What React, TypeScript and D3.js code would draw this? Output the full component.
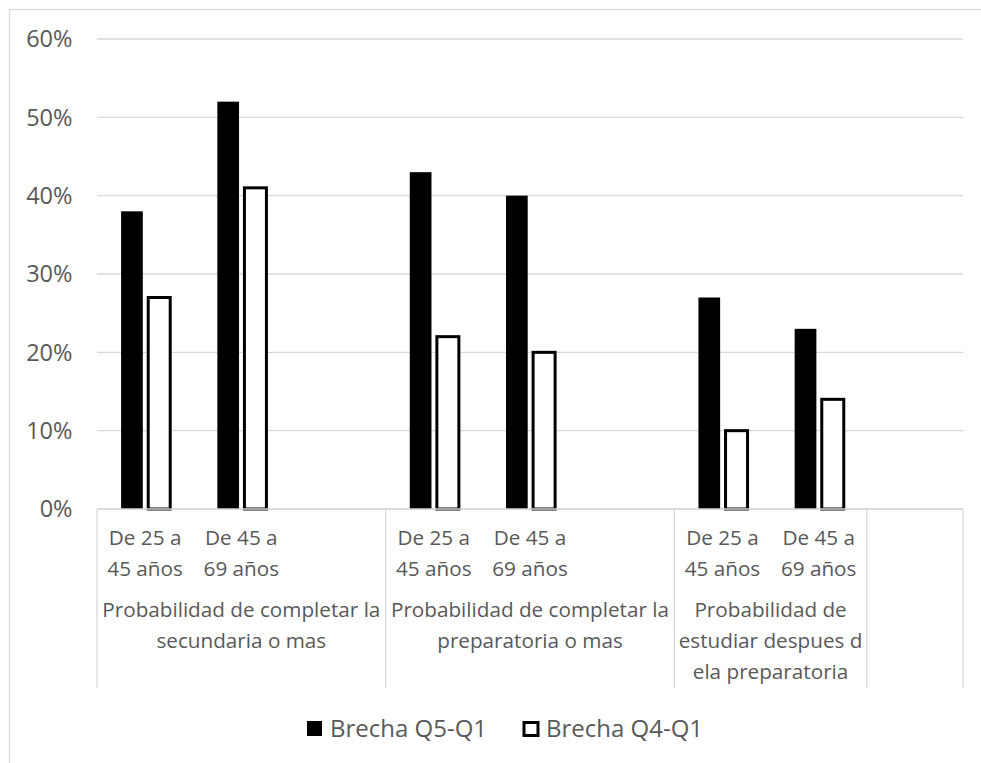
import React from "react";
import * as d3 from "d3";

// Slots along the category axis (groups of sub-categories, with empty spacer slots)
const subLabels: string[][] = [
  ["De 25 a", "45 años"], ["De 45 a", "69 años"], [],
  ["De 25 a", "45 años"], ["De 45 a", "69 años"], [],
  ["De 25 a", "45 años"], ["De 45 a", "69 años"], [],
];
const groupLabels: string[][] = [
  ["Probabilidad de completar la", "secundaria o mas"],
  ["Probabilidad de completar la", "preparatoria o mas"],
  ["Probabilidad de", "estudiar despues d", "ela preparatoria"],
  [],
];
const groupSpans: number[] = [3, 3, 2, 1];

const seriesNames = ["Brecha Q5-Q1", "Brecha Q4-Q1"];
const q5q1: (number | null)[] = [38, 52, null, 43, 40, null, 27, 23, null];
const q4q1: (number | null)[] = [27, 41, null, 22, 20, null, 10, 14, null];

const yTicks = [0, 10, 20, 30, 40, 50, 60];

const W = 981;
const H = 763;
const FONT = "'Open Sans', 'Noto Sans', sans-serif";
const TEXT = "#595959";
const GRID = "#d9d9d9";

export default function App() {
  const left = 97, right = 963, top = 39, bottom = 509;
  const x = d3.scaleBand<number>().domain(d3.range(subLabels.length)).range([left, right]).padding(0);
  const y = d3.scaleLinear().domain([0, 60]).range([bottom, top]);
  const bw = x.bandwidth();
  const barW = 22;
  const fs = 20.7;
  const tickFs = 23.5;
  const legendFs = 24;

  // Group boundary positions
  const bounds: number[] = [left];
  let acc = 0;
  groupSpans.forEach((s) => {
    acc += s;
    bounds.push(left + acc * bw);
  });

  return (
    <svg width={W} height={H} style={{ position: "absolute", left: 0, top: 0, display: "block" }} fontFamily={FONT}>
      <rect x={0} y={0} width={W} height={H} fill="#fff" />
      <rect x={9.5} y={9.5} width={W + 20} height={H + 20} fill="none" stroke={GRID} strokeWidth={1.3} />

      {/* gridlines + y tick labels */}
      {yTicks.map((t) => (
        <g key={t}>
          <line x1={left} x2={right} y1={y(t)} y2={y(t)} stroke={GRID} strokeWidth={1.3} />
          <text x={72.5} y={y(t)} dy="0.35em" textAnchor="end" fontSize={tickFs} fill={TEXT}>
            {d3.format(".0%")(t / 100)}
          </text>
        </g>
      ))}

      {/* bars */}
      {q5q1.map((v, i) =>
        v == null ? null : (
          <rect key={"a" + i} x={(x(i) as number) + bw / 2 - 24} y={y(v)} width={barW - 0.3} height={y(0) - y(v)} fill="#000" />
        )
      )}
      {q4q1.map((v, i) =>
        v == null ? null : (
          <rect key={"b" + i} x={(x(i) as number) + bw / 2 + 3.1} y={y(v)} width={barW} height={y(0) - y(v)} fill="#fff" stroke="#000" strokeWidth={3} />
        )
      )}

      {/* category axis */}
      <line x1={left} x2={right} y1={bottom} y2={bottom} stroke={GRID} strokeWidth={1.3} />
      {bounds.map((b, i) => (
        <line key={i} x1={b} x2={b} y1={bottom} y2={688} stroke={GRID} strokeWidth={1.3} />
      ))}
      {subLabels.map((lines, i) =>
        lines.map((l, j) => (
          <text key={i + "-" + j} x={(x(i) as number) + bw / 2} y={538 + j * 30.5} dy="0.35em" textAnchor="middle" fontSize={fs} fill={TEXT}>
            {l}
          </text>
        ))
      )}
      {groupLabels.map((lines, g) =>
        lines.map((l, j) => (
          <text key={g + "-" + j} x={(bounds[g] + bounds[g + 1]) / 2} y={610 + j * 31} dy="0.35em" textAnchor="middle" fontSize={fs} fill={TEXT}>
            {l}
          </text>
        ))
      )}

      {/* legend */}
      <rect x={307} y={721} width={15} height={15} fill="#000" />
      <text x={330} y={728.5} dy="0.35em" fontSize={legendFs} fill={TEXT}>{seriesNames[0]}</text>
      <rect x={524} y={722.5} width={14} height={13} fill="#fff" stroke="#000" strokeWidth={3} />
      <text x={546} y={728.5} dy="0.35em" fontSize={legendFs} fill={TEXT}>{seriesNames[1]}</text>
    </svg>
  );
}
